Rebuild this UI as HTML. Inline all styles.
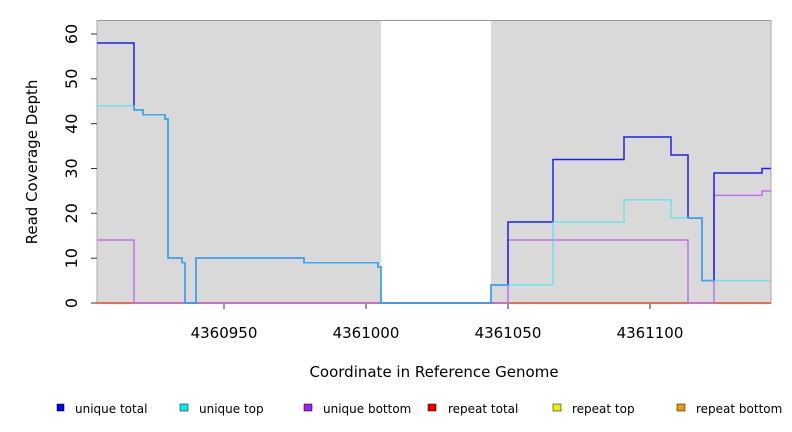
<!DOCTYPE html>
<html><head><meta charset="utf-8"><style>body{margin:0;background:#fff}svg{display:block;font-family:"DejaVu Sans","Liberation Sans",sans-serif}</style></head><body>
<svg width="792" height="432" viewBox="0 0 792 432">
<rect x="97" y="20" width="284" height="283" fill="#d9d9d9"/>
<rect x="491" y="20" width="280" height="283" fill="#d9d9d9"/>
<line x1="97" y1="20.5" x2="771" y2="20.5" stroke="#999" stroke-width="1"/>
<line x1="97" y1="20" x2="97" y2="303" stroke="#aaa"/>
<line x1="771" y1="20" x2="771" y2="303" stroke="#aaa"/>
<g stroke="#333" stroke-width="1">
<line x1="91" y1="303" x2="97" y2="303"/><line x1="91" y1="258.2" x2="97" y2="258.2"/><line x1="91" y1="213.3" x2="97" y2="213.3"/><line x1="91" y1="168.5" x2="97" y2="168.5"/><line x1="91" y1="123.7" x2="97" y2="123.7"/><line x1="91" y1="78.8" x2="97" y2="78.8"/><line x1="91" y1="34" x2="97" y2="34"/>
<line x1="224" y1="303" x2="224" y2="309"/><line x1="366" y1="303" x2="366" y2="309"/><line x1="508" y1="303" x2="508" y2="309"/><line x1="650" y1="303" x2="650" y2="309"/>
</g>
<g font-size="16" fill="#000" text-anchor="middle">
<text transform="translate(71,303) rotate(-90)" dy="6">0</text>
<text transform="translate(71,258.2) rotate(-90)" dy="6">10</text>
<text transform="translate(71,213.3) rotate(-90)" dy="6">20</text>
<text transform="translate(71,168.5) rotate(-90)" dy="6">30</text>
<text transform="translate(71,123.7) rotate(-90)" dy="6">40</text>
<text transform="translate(71,78.8) rotate(-90)" dy="6">50</text>
<text transform="translate(71,34) rotate(-90)" dy="6">60</text>
<text x="224" y="338" font-size="15">4360950</text><text x="366" y="338" font-size="15">4361000</text><text x="508" y="338" font-size="15">4361050</text><text x="650" y="338" font-size="15">4361100</text>
<text x="434" y="377" font-size="15">Coordinate in Reference Genome</text>
<text transform="translate(37,162) rotate(-90)" font-size="15">Read Coverage Depth</text>
</g>
<line x1="97" y1="303" x2="771" y2="303" stroke="#e07050" stroke-width="2"/>
<path d="M97,240 H134 V303 H508 V240 H688 V303 H714 V195.4 H762 V191 H771" fill="none" stroke="#c070f0" stroke-width="1.5"/>
<path d="M97,43 H134 V110 H143 V114.7 H165 V119 H168 V258 H182 V262.7 H185 V303 H196 V258 H304 V262.7 H378 V267 H381 V303 H491 V285 H508 V222 H553 V159.5 H624 V137 H671 V155 H688 V218 H702 V280.6 H714 V173 H762 V168.5 H771" fill="none" stroke="#2020ee" stroke-width="1.5"/>
<path d="M97,105.7 H134 V110 H143 V114.7 H165 V119 H168 V258 H182 V262.7 H185 V303 H196 V258 H304 V262.7 H378 V267 H381 V303 H491 V285 H553 V222 H624 V199.9 H671 V217.8 H702 V280.6 H771" fill="none" stroke="#40e8f0" stroke-width="1.5" stroke-opacity="0.7"/>
<g font-size="12" fill="#000">
<rect x="57" y="404" width="7" height="7" fill="#0000ee" stroke="#000" stroke-width="0.5"/><text x="75" y="413">unique total</text>
<rect x="180" y="404" width="8" height="7" fill="#00eeee" stroke="#000" stroke-width="0.5"/><text x="199" y="413">unique top</text>
<rect x="304" y="404" width="8" height="7" fill="#a020f0" stroke="#000" stroke-width="0.5"/><text x="323" y="413">unique bottom</text>
<rect x="428" y="404" width="8" height="7" fill="#ee0000" stroke="#000" stroke-width="0.5"/><text x="448" y="413">repeat total</text>
<rect x="553" y="404" width="8" height="7" fill="#eeee00" stroke="#000" stroke-width="0.5"/><text x="572" y="413">repeat top</text>
<rect x="677" y="404" width="8" height="7" fill="#ee9a00" stroke="#000" stroke-width="0.5"/><text x="696" y="413">repeat bottom</text>
</g>
</svg>
</body></html>
